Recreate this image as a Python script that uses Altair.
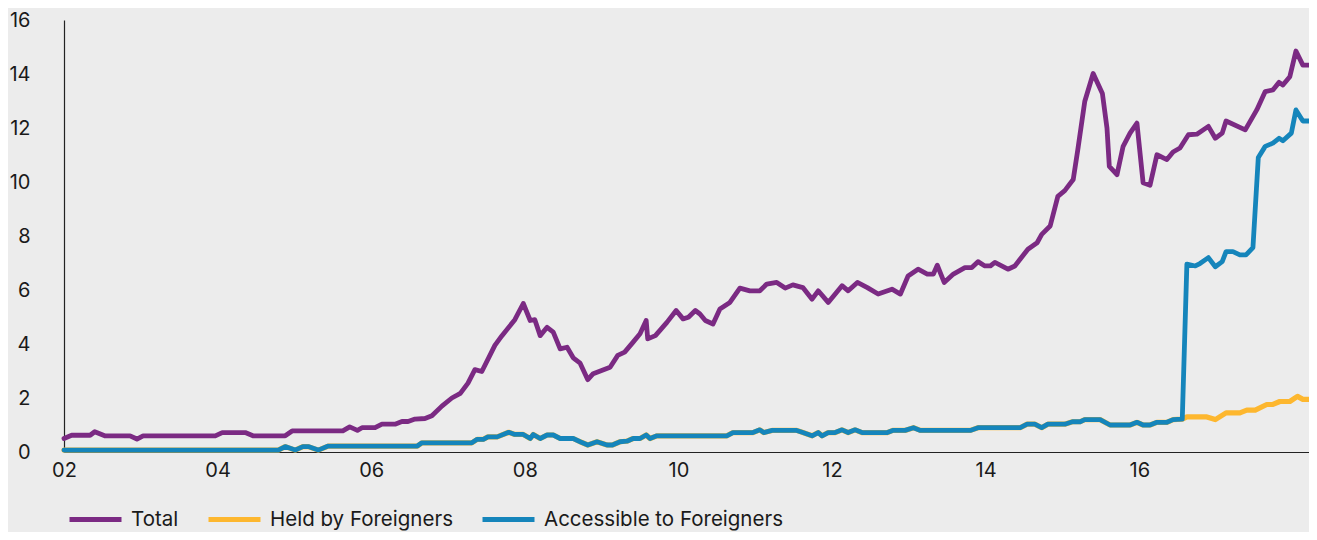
import altair as alt
import pandas as pd

# ---- data (decimal year, value) ----
total_year = [2002.00, 2002.10, 2002.34, 2002.40, 2002.53, 2002.86, 2002.95, 2003.03, 2003.97, 2004.06,
              2004.36, 2004.46, 2004.88, 2004.97, 2005.63, 2005.72, 2005.82, 2005.88, 2006.05, 2006.14,
              2006.31, 2006.40, 2006.48, 2006.57, 2006.70, 2006.79, 2006.92, 2007.05, 2007.16, 2007.26,
              2007.35, 2007.44, 2007.61, 2007.70, 2007.87, 2007.98, 2008.07, 2008.13, 2008.20, 2008.29,
              2008.37, 2008.46, 2008.55, 2008.63, 2008.72, 2008.82, 2008.89, 2009.11, 2009.21, 2009.30,
              2009.41, 2009.50, 2009.58, 2009.60, 2009.70, 2009.85, 2009.97, 2010.06, 2010.13, 2010.22,
              2010.28, 2010.35, 2010.45, 2010.54, 2010.67, 2010.80, 2010.93, 2011.06, 2011.15, 2011.28,
              2011.39, 2011.49, 2011.62, 2011.74, 2011.82, 2011.95, 2012.13, 2012.21, 2012.33, 2012.46,
              2012.60, 2012.78, 2012.89, 2012.99, 2013.12, 2013.24, 2013.32, 2013.37, 2013.46, 2013.58,
              2013.73, 2013.82, 2013.90, 2013.99, 2014.06, 2014.12, 2014.29, 2014.38, 2014.55, 2014.67,
              2014.73, 2014.84, 2014.94, 2015.03, 2015.14, 2015.20, 2015.29, 2015.40, 2015.52, 2015.58,
              2015.61, 2015.71, 2015.79, 2015.88, 2015.97, 2016.05, 2016.14, 2016.23, 2016.36, 2016.44,
              2016.53, 2016.64, 2016.75, 2016.90, 2016.99, 2017.08, 2017.13, 2017.38, 2017.53, 2017.64,
              2017.74, 2017.82, 2017.87, 2017.96, 2018.04, 2018.13, 2018.22]
total_value = [0.50, 0.62, 0.62, 0.75, 0.60, 0.60, 0.48, 0.60, 0.60, 0.72,
               0.72, 0.60, 0.60, 0.78, 0.78, 0.93, 0.80, 0.90, 0.90, 1.03,
               1.03, 1.13, 1.13, 1.22, 1.24, 1.34, 1.70, 2.00, 2.17, 2.55,
               3.05, 2.98, 3.95, 4.30, 4.90, 5.50, 4.87, 4.90, 4.31, 4.62,
               4.44, 3.82, 3.88, 3.49, 3.29, 2.68, 2.90, 3.14, 3.58, 3.70,
               4.07, 4.38, 4.87, 4.19, 4.31, 4.80, 5.24, 4.93, 4.99, 5.24,
               5.11, 4.87, 4.74, 5.30, 5.54, 6.07, 5.97, 5.97, 6.22, 6.28,
               6.07, 6.19, 6.09, 5.66, 5.97, 5.54, 6.16, 5.97, 6.28, 6.09,
               5.85, 6.03, 5.85, 6.52, 6.77, 6.59, 6.59, 6.92, 6.28, 6.59,
               6.83, 6.83, 7.05, 6.89, 6.89, 7.02, 6.77, 6.89, 7.51, 7.75,
               8.06, 8.37, 9.47, 9.68, 10.09, 11.20, 12.98, 14.02, 13.28, 11.99,
               10.58, 10.27, 11.32, 11.81, 12.18, 9.97, 9.88, 11.01, 10.83, 11.11,
               11.26, 11.75, 11.77, 12.06, 11.62, 11.81, 12.26, 11.93, 12.67, 13.35,
               13.41, 13.69, 13.59, 13.90, 14.85, 14.33, 14.33]

# period when "Held by" and "Accessible to" coincide
shared_year = [2002.00, 2004.79, 2004.88, 2005.01, 2005.11, 2005.18, 2005.31, 2005.44, 2006.60, 2006.66,
               2007.31, 2007.38, 2007.46, 2007.52, 2007.64, 2007.79, 2007.87, 2007.98, 2008.07, 2008.11,
               2008.20, 2008.29, 2008.37, 2008.46, 2008.63, 2008.72, 2008.82, 2008.94, 2009.07, 2009.14,
               2009.24, 2009.33, 2009.41, 2009.50, 2009.58, 2009.63, 2009.72, 2010.63, 2010.71, 2010.97,
               2011.06, 2011.11, 2011.22, 2011.54, 2011.62, 2011.74, 2011.82, 2011.87, 2011.95, 2012.04,
               2012.13, 2012.21, 2012.30, 2012.39, 2012.72, 2012.79, 2012.95, 2013.06, 2013.15, 2013.80,
               2013.90, 2014.45, 2014.54, 2014.64, 2014.73, 2014.81, 2015.03, 2015.13, 2015.23, 2015.29,
               2015.49, 2015.62, 2015.88, 2015.97, 2016.05, 2016.14, 2016.23, 2016.36, 2016.44, 2016.56]
shared_value = [0.07, 0.07, 0.20, 0.07, 0.20, 0.20, 0.07, 0.22, 0.22, 0.34,
                0.34, 0.47, 0.47, 0.56, 0.56, 0.73, 0.65, 0.65, 0.50, 0.65,
                0.50, 0.63, 0.63, 0.50, 0.50, 0.38, 0.26, 0.38, 0.26, 0.26,
                0.38, 0.40, 0.50, 0.50, 0.63, 0.50, 0.60, 0.60, 0.72, 0.72,
                0.82, 0.72, 0.80, 0.80, 0.72, 0.60, 0.72, 0.60, 0.72, 0.72,
                0.82, 0.72, 0.82, 0.72, 0.72, 0.80, 0.80, 0.90, 0.80, 0.80,
                0.90, 0.90, 1.03, 1.03, 0.90, 1.03, 1.03, 1.12, 1.12, 1.20,
                1.20, 1.00, 1.00, 1.10, 1.00, 1.00, 1.10, 1.10, 1.20, 1.22]

held_tail_year = [2016.62, 2016.88, 2016.99, 2017.13, 2017.31, 2017.40, 2017.51, 2017.66, 2017.74,
                  2017.83, 2017.96, 2018.06, 2018.13, 2018.22]
held_tail_value = [1.30, 1.30, 1.20, 1.45, 1.45, 1.55, 1.55, 1.76, 1.76,
                   1.87, 1.87, 2.06, 1.95, 1.95]

access_tail_year = [2016.62, 2016.73, 2016.79, 2016.90, 2016.99, 2017.08, 2017.13, 2017.22, 2017.31,
                    2017.39, 2017.48, 2017.55, 2017.64, 2017.74, 2017.82, 2017.87, 2017.98, 2018.04,
                    2018.13, 2018.22]
access_tail_value = [6.96, 6.89, 6.98, 7.20, 6.86, 7.05, 7.42, 7.42, 7.30,
                     7.30, 7.57, 10.91, 11.32, 11.44, 11.62, 11.53, 11.81, 12.67,
                     12.26, 12.26]

series_names = ["Total", "Held by Foreigners", "Accessible to Foreigners"]
series_colors = ["#7b2a83", "#fdb72f", "#1585bb"]
x_tick_years = [2002, 2004, 2006, 2008, 2010, 2012, 2014, 2016]
y_ticks = [0, 2, 4, 6, 8, 10, 12, 14, 16]

rows = []
for yr, v in zip(total_year, total_value):
    rows.append({"year": yr, "value": v, "series": "Total"})
for yr, v in zip(shared_year + held_tail_year, shared_value + held_tail_value):
    rows.append({"year": yr, "value": v, "series": "Held by Foreigners"})
for yr, v in zip(shared_year + access_tail_year, shared_value + access_tail_value):
    rows.append({"year": yr, "value": v, "series": "Accessible to Foreigners"})
df = pd.DataFrame(rows)

FONT = "Inter"
TXT = "#1a1a1a"

x_enc = alt.X("year:Q", scale=alt.Scale(domain=[2002, 2018.21], nice=False, zero=False),
              axis=alt.Axis(values=x_tick_years, labelExpr="format(datum.value % 100, '02d')",
                            title=None, grid=False, ticks=False, tickSize=0, labelPadding=8,
                            labelFlush=False, domainColor="#222222", domainWidth=1.2))
y_enc = alt.Y("value:Q", scale=alt.Scale(domain=[0, 16], nice=False),
              axis=alt.Axis(values=y_ticks, title=None, grid=False, ticks=False, tickSize=0,
                            labelPadding=34, labelFlush=False, domainColor="#222222", domainWidth=1.2))
color_enc = alt.Color("series:N",
                      scale=alt.Scale(domain=series_names, range=series_colors),
                      legend=alt.Legend(title=None, orient="none", direction="horizontal",
                                        legendX=3, legendY=471, symbolType="stroke",
                                        symbolSize=2704, symbolStrokeWidth=5,
                                        labelOffset=7, columnPadding=19, padding=0,
                                        labelLimit=500))

layers = []
widths = {"Total": 4.8, "Held by Foreigners": 5.2, "Accessible to Foreigners": 4.8}
for name in series_names:
    layers.append(
        alt.Chart(df)
        .transform_filter(alt.datum.series == name)
        .mark_line(strokeWidth=widths[name], strokeCap="round", strokeJoin="round")
        .encode(x=x_enc, y=y_enc, color=color_enc)
    )

chart = (
    alt.layer(*layers)
    .properties(width=1245, height=432, background="#ececec",
                padding={"left": 56, "top": 12, "right": 0, "bottom": 80},
                autosize=alt.AutoSizeParams(type="none"))
    .configure_view(stroke=None)
    .configure_axis(labelFont=FONT, labelFontSize=20, labelColor=TXT)
    .configure_legend(labelFont=FONT, labelFontSize=20.5, labelColor=TXT, labelLimit=500)
)

chart.save("out.html", embed_options={"renderer": "svg", "actions": False})
